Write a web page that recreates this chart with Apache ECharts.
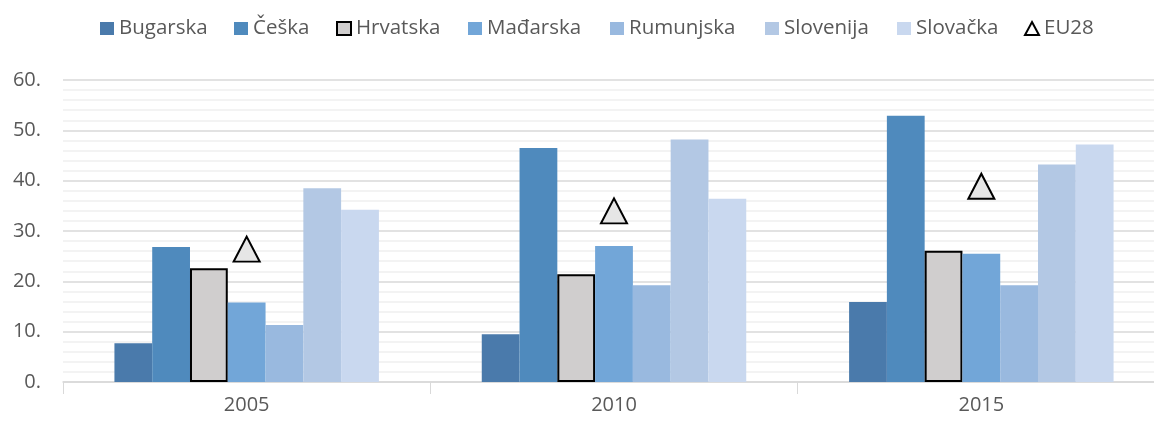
<!DOCTYPE html>
<html>
<head>
<meta charset="utf-8">
<script src="https://cdn.jsdelivr.net/npm/echarts@6/dist/echarts.min.js"></script>
<style>
  html, body { margin: 0; padding: 0; background: #fff; overflow: hidden; }
  #chart { width: 1176px; height: 421px; }
</style>
</head>
<body>
<div id="chart"></div>
<script>
// data
var years = ['2005', '2010', '2015'];
var bugarska  = [7.7, 9.5, 15.9];
var ceska     = [26.8, 46.5, 52.9];
var hrvatska  = [22.6, 21.4, 26.1];
var madarska  = [15.8, 27.0, 25.5];
var rumunjska = [11.3, 19.2, 19.2];
var slovenija = [38.5, 48.2, 43.2];
var slovacka  = [34.2, 36.4, 47.2];
var eu28      = [26.4, 34.0, 38.9];

var names = ['Bugarska', 'Češka', 'Hrvatska', 'Mađarska', 'Rumunjska', 'Slovenija', 'Slovačka', 'EU28'];

// legend entries placed one by one so they line up with the original
var legendLeft = [100, 234, 336, 468, 610, 765, 897, 1024];

// plot runs a little past the right edge of the window, like the original
var chart = echarts.init(document.getElementById('chart'));

var font = '"Open Sans", "DejaVu Sans", sans-serif';

function bar(name, data, color, border) {
    return {
        name: name,
        type: 'bar',
        data: data,
        barGap: '0%',
        barCategoryGap: '28%',
        itemStyle: border ? { color: color, borderColor: '#000', borderWidth: 2 } : { color: color },
        emphasis: { disabled: true }
    };
}

var legends = names.map(function (n, i) {
    var item = { name: n, icon: 'rect' };
    if (n === 'EU28') {
        item.icon = 'triangle';
        item.itemStyle = { color: '#fff', borderColor: '#000', borderWidth: 2 };
    }
    return {
        top: 18,
        left: legendLeft[i],
        padding: 0,
        itemWidth: 14,
        itemHeight: 13,
        textStyle: { fontSize: 20.5, color: '#595959', fontFamily: font },
        data: [item]
    };
});

var option = {
    animation: false,
    textStyle: { fontFamily: font },
    legend: legends,
    grid: { left: 63, top: 80, width: 1102, height: 302 },
    xAxis: {
        type: 'category',
        data: years,
        axisLine: { lineStyle: { color: '#d9d9d9', width: 1.5 } },
        axisTick: { show: true, length: 12, lineStyle: { color: '#d9d9d9' } },
        axisLabel: { fontSize: 20, color: '#595959', margin: 13 }
    },
    yAxis: {
        type: 'value',
        min: 0,
        max: 60,
        interval: 10,
        axisLabel: { fontSize: 20, color: '#595959', margin: 22, formatter: function (v) { return v + '.'; } },
        axisLine: { show: false },
        splitLine: { lineStyle: { color: '#d9d9d9', width: 1.5 } },
        minorTick: { show: false, splitNumber: 5 },
        minorSplitLine: { show: true, lineStyle: { color: '#efefef', width: 1.5 } }
    },
    series: [
        bar('Bugarska', bugarska, '#4a7aab'),
        bar('Češka', ceska, '#4f8abd'),
        bar('Hrvatska', hrvatska, '#d0cece', true),
        bar('Mađarska', madarska, '#72a6d8'),
        bar('Rumunjska', rumunjska, '#99b9df'),
        bar('Slovenija', slovenija, '#b3c8e4'),
        bar('Slovačka', slovacka, '#c9d8ef'),
        {
            name: 'EU28',
            type: 'scatter',
            data: eu28,
            symbol: 'triangle',
            symbolSize: [26, 25],
            itemStyle: { color: '#e6e6e6', borderColor: '#000', borderWidth: 2, opacity: 1 },
            emphasis: { disabled: true },
            z: 5
        }
    ]
};

chart.setOption(option);
</script>
</body>
</html>
